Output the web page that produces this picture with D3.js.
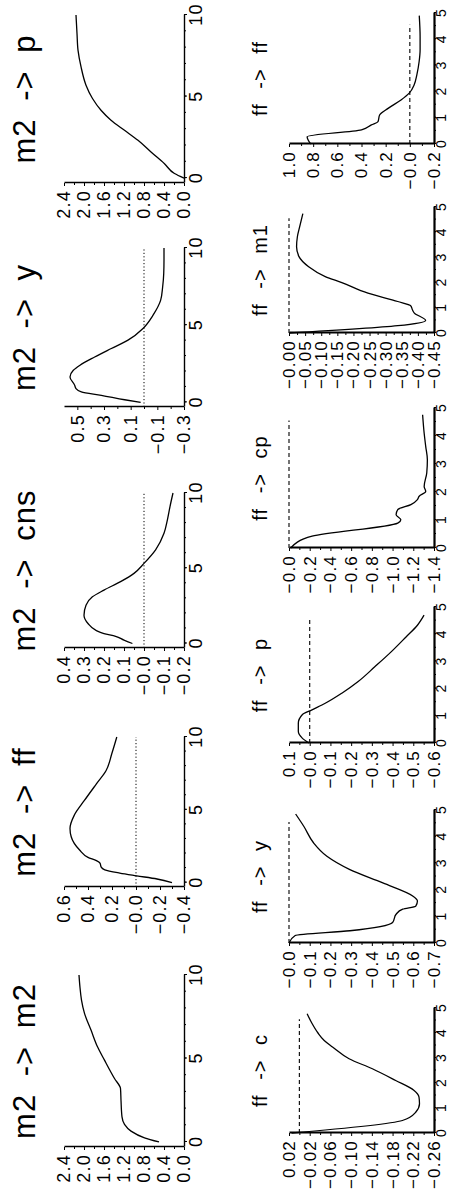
<!DOCTYPE html>
<html><head><meta charset="utf-8">
<script src="https://cdn.jsdelivr.net/npm/d3@7"></script>
<style>html,body{margin:0;padding:0;background:#fff;} svg{display:block;}</style>
</head><body>
<svg id="chart" width="449" height="1198"></svg>
<script>
// ---------------- data ----------------
const m2Titles = ["m2 -> m2", "m2 -> ff", "m2 -> cns", "m2 -> y", "m2 -> p"];
const ffTitles = ["ff -> c", "ff -> y", "ff -> p", "ff -> cp", "ff -> m1", "ff -> ff"];

const m2TimeTicks = [0, 5, 10];
const m2TimeLabels = ["0", "5", "10"];
const ffTimeTicks = [0, 1, 2, 3, 4, 5];
const ffTimeLabels = ["0", "1", "2", "3", "4", "5"];

// responses of m2 (time, value)
const m2_m2 = [[0,0.5],[0.25,0.79],[0.65,1.06],[1.05,1.19],[1.5,1.24],[2.5,1.26],[3.2,1.27],[3.8,1.39],[4.9,1.59],[5.7,1.73],[6.7,1.86],[7.7,1.99],[8.5,2.05],[9.25,2.08],[10,2.1]];
const m2_ff = [[0,-0.30],[0.25,-0.175],[0.47,-0.005],[0.66,0.135],[0.88,0.26],[1.06,0.29],[1.34,0.30],[1.51,0.33],[1.74,0.40],[2.24,0.47],[3.15,0.54],[3.72,0.55],[4.62,0.515],[5.64,0.43],[6.78,0.33],[7.68,0.25],[8.9,0.2],[10,0.16]];
const m2_cns = [[0,0.058],[0.22,0.1],[0.48,0.142],[0.66,0.2],[0.87,0.24],[1.33,0.28],[1.88,0.30],[2.54,0.29],[3.1,0.258],[3.55,0.2],[4.11,0.117],[4.66,0.05],[5.32,0.0],[6.22,-0.058],[7.32,-0.1],[8.22,-0.117],[9.1,-0.13],[10,-0.145]];
const m2_y = [[0,0.025],[0.17,0.145],[0.46,0.32],[0.68,0.47],[0.89,0.51],[1.11,0.52],[1.65,0.555],[2.08,0.53],[2.41,0.48],[2.94,0.37],[3.49,0.245],[4.03,0.12],[4.79,0.0075],[5.65,-0.068],[6.62,-0.125],[7.49,-0.14],[8.35,-0.148],[9.22,-0.15],[10,-0.15]];
const m2_p = [[0,0.0],[0.28,0.19],[0.88,0.39],[1.6,0.66],[2.32,0.92],[2.93,1.19],[3.55,1.46],[4.16,1.66],[4.88,1.83],[5.7,1.96],[6.83,2.06],[7.85,2.12],[8.87,2.14],[10,2.16]];

// responses to ff (time, value)
const ff_c = [[0,0.015],[0.5,-0.199],[0.84,-0.225],[1.17,-0.232],[1.44,-0.231],[1.71,-0.221],[2.1,-0.186],[2.57,-0.141],[2.97,-0.096],[3.44,-0.064],[3.7,-0.048],[4.0,-0.036],[4.4,-0.024],[4.77,-0.015]];
const ff_y = [[0,0],[0.28,-0.03],[0.46,-0.294],[0.77,-0.50],[1.08,-0.517],[1.27,-0.549],[1.39,-0.612],[1.58,-0.62],[1.77,-0.597],[2.26,-0.453],[2.76,-0.294],[3.26,-0.183],[3.76,-0.119],[4.38,-0.072],[4.85,-0.032]];
const ff_p = [[0,0.004],[0.18,0.036],[0.43,0.055],[0.73,0.055],[1.04,0.036],[1.22,-0.011],[1.46,-0.075],[1.83,-0.155],[2.26,-0.234],[2.8,-0.314],[3.35,-0.393],[3.9,-0.465],[4.33,-0.52],[4.7,-0.552]];
const ff_cp = [[0,-0.016],[0.42,-0.223],[0.89,-1.05],[1.01,-1.08],[1.19,-1.034],[1.37,-1.05],[1.55,-1.177],[1.73,-1.24],[1.85,-1.257],[2.02,-1.32],[2.2,-1.305],[2.68,-1.33],[3.15,-1.336],[3.63,-1.32],[4.1,-1.305],[4.76,-1.29]];
const ff_m1 = [[0,0],[0.29,-0.3375],[0.5,-0.424],[0.79,-0.389],[0.92,-0.383],[1.08,-0.378],[1.25,-0.3375],[1.58,-0.245],[2.0,-0.164],[2.24,-0.1125],[2.63,-0.061],[3.03,-0.031],[3.42,-0.0235],[3.82,-0.026],[4.21,-0.033],[4.74,-0.043]];
const ff_ff = [[0,0.82],[0.28,0.85],[0.54,0.4],[0.73,0.318],[0.85,0.264],[1.11,0.25],[1.36,0.18],[1.68,0.073],[1.94,0.005],[2.26,-0.036],[2.64,-0.058],[3.15,-0.077],[3.6,-0.085],[4.1,-0.085],[4.9,-0.078]];

// value-axis ticks and labels
const m2m2Ticks = [2.4,2.0,1.6,1.2,0.8,0.4,0.0];
const m2m2Labels = ["2.4","2.0","1.6","1.2","0.8","0.4","0.0"];
const m2ffTicks = [0.6,0.4,0.2,0.0,-0.2,-0.4];
const m2ffLabels = ["0.6","0.4","0.2","\u22120.0","\u22120.2","\u22120.4"];
const m2cnsTicks = [0.4,0.3,0.2,0.1,0.0,-0.1,-0.2];
const m2cnsLabels = ["0.4","0.3","0.2","0.1","\u22120.0","\u22120.1","\u22120.2"];
const m2yTicks = [0.5,0.3,0.1,-0.1,-0.3];
const m2yLabels = ["0.5","0.3","0.1","\u22120.1","\u22120.3"];
const m2pTicks = [2.4,2.0,1.6,1.2,0.8,0.4,0.0];
const m2pLabels = ["2.4","2.0","1.6","1.2","0.8","0.4","0.0"];

const ffcTicks = [0.02,-0.02,-0.06,-0.10,-0.14,-0.18,-0.22,-0.26];
const ffcLabels = ["0.02","\u22120.02","\u22120.06","\u22120.10","\u22120.14","\u22120.18","\u22120.22","\u22120.26"];
const ffyTicks = [0.0,-0.1,-0.2,-0.3,-0.4,-0.5,-0.6,-0.7];
const ffyLabels = ["\u22120.0","\u22120.1","\u22120.2","\u22120.3","\u22120.4","\u22120.5","\u22120.6","\u22120.7"];
const ffpTicks = [0.1,0.0,-0.1,-0.2,-0.3,-0.4,-0.5,-0.6];
const ffpLabels = ["0.1","\u22120.0","\u22120.1","\u22120.2","\u22120.3","\u22120.4","\u22120.5","\u22120.6"];
const ffcpTicks = [0.0,-0.2,-0.4,-0.6,-0.8,-1.0,-1.2,-1.4];
const ffcpLabels = ["\u22120.0","\u22120.2","\u22120.4","\u22120.6","\u22120.8","\u22121.0","\u22121.2","\u22121.4"];
const ffm1Ticks = [0.0,-0.05,-0.10,-0.15,-0.20,-0.25,-0.30,-0.35,-0.40,-0.45];
const ffm1Labels = ["\u22120.00","\u22120.05","\u22120.10","\u22120.15","\u22120.20","\u22120.25","\u22120.30","\u22120.35","\u22120.40","\u22120.45"];
const ffffTicks = [1.0,0.8,0.6,0.4,0.2,0.0,-0.2];
const ffffLabels = ["1.0","0.8","0.6","0.4","0.2","\u22120.0","\u22120.2"];

// ---------------- layout (unrotated landscape frame 1198 x 449) ----------------
const FONT = "'Liberation Sans', Arial, Helvetica, sans-serif";
const topRow = {yTop: 64, yBot: 184, titleY: 35, titleSize: 31, labelSize: 18, timeSize: 18, axisW: 1.4,
  tDomain: [-0.3, 10], tTicks: m2TimeTicks, tLabels: m2TimeLabels, tMinorStep: 1,
  tTickSize: 3, tLabelBase: 17.5,
  zeroEnd: 10, zeroDash: "1.2,2.2", zeroW: 1};
const botRow = {yTop: 289, yBot: 434, titleY: 267, titleSize: 20, labelSize: 17, timeSize: 14, axisW: 2.2,
  tDomain: [0, 5], tTicks: ffTimeTicks, tLabels: ffTimeLabels, tMinorStep: 0.5,
  tTickSize: 2, tLabelBase: 11.6,
  zeroEnd: 4.55, zeroDash: "4,3", zeroW: 1.1};

const topPanels = [
  {title: m2Titles[0], data: m2_m2, ticks: m2m2Ticks, labels: m2m2Labels, vDomain: [0, 2.4], zero: false, x0: 51, x1: 223},
  {title: m2Titles[1], data: m2_ff, ticks: m2ffTicks, labels: m2ffLabels, vDomain: [-0.4, 0.6], zero: true, x0: 311, x1: 461},
  {title: m2Titles[2], data: m2_cns, ticks: m2cnsTicks, labels: m2cnsLabels, vDomain: [-0.2, 0.4], zero: true, x0: 550, x1: 705},
  {title: m2Titles[3], data: m2_y, ticks: m2yTicks, labels: m2yLabels, vDomain: [-0.3, 0.6], zero: true, x0: 791, x1: 950},
  {title: m2Titles[4], data: m2_p, ticks: m2pTicks, labels: m2pLabels, vDomain: [0, 2.4], zero: false, x0: 1015, x1: 1183}
];
const botPanels = [
  {title: ffTitles[0], data: ff_c, ticks: ffcTicks, labels: ffcLabels, vDomain: [-0.26, 0.02], zero: true, x0: 65, x1: 190},
  {title: ffTitles[1], data: ff_y, ticks: ffyTicks, labels: ffyLabels, vDomain: [-0.7, 0.0], zero: true, x0: 255, x1: 388},
  {title: ffTitles[2], data: ff_p, ticks: ffpTicks, labels: ffpLabels, vDomain: [-0.6, 0.1], zero: true, x0: 455, x1: 591},
  {title: ffTitles[3], data: ff_cp, ticks: ffcpTicks, labels: ffcpLabels, vDomain: [-1.4, 0.0], zero: true, x0: 650, x1: 790},
  {title: ffTitles[4], data: ff_m1, ticks: ffm1Ticks, labels: ffm1Labels, vDomain: [-0.45, 0.0], zero: true, x0: 865, x1: 991},
  {title: ffTitles[5], data: ff_ff, ticks: ffffTicks, labels: ffffLabels, vDomain: [-0.2, 1.0], zero: true, x0: 1054, x1: 1185}
];

// ---------------- drawing ----------------
const svg = d3.select("#chart");
svg.append("rect").attr("width", 449).attr("height", 1198).attr("fill", "#fff");
const frame = svg.append("g").attr("transform", "translate(0,1198) rotate(-90)");

function styleAxis(sel, row, size) {
  sel.attr("font-family", FONT).attr("font-size", size);
  sel.select(".domain").attr("stroke-width", row.axisW).attr("stroke", "#000");
  sel.selectAll(".tick line").attr("stroke-width", 1).attr("stroke", "#000");
  sel.selectAll(".tick text").attr("fill", "#000").attr("letter-spacing", 1.2);
}

function drawPanel(row, cfg) {
  const x = d3.scaleLinear().domain(row.tDomain).range([cfg.x0, cfg.x1]);
  const y = d3.scaleLinear().domain(cfg.vDomain).range([row.yBot, row.yTop]);
  const g = frame.append("g");

  // zero reference line
  if (cfg.zero) {
    g.append("line")
      .attr("x1", x(row.tDomain[0])).attr("x2", x(row.zeroEnd))
      .attr("y1", y(0)).attr("y2", y(0))
      .attr("stroke", "#000").attr("stroke-width", row.zeroW)
      .attr("stroke-dasharray", row.zeroDash);
  }

  // minor value ticks (midway between labelled ticks)
  const vMinor = d3.pairs(cfg.ticks).map(([a, b]) => (a + b) / 2);
  g.append("g").attr("transform", `translate(${cfg.x0},0)`)
    .call(d3.axisLeft(y).tickValues(vMinor).tickSize(2).tickSizeOuter(0).tickFormat(""))
    .call(s => { s.select(".domain").remove(); s.selectAll("line").attr("stroke", "#000"); });

  // value axis
  g.append("g").attr("transform", `translate(${cfg.x0},0)`)
    .call(d3.axisLeft(y).tickValues(cfg.ticks).tickFormat((d, i) => cfg.labels[i])
      .tickSize(3).tickSizeOuter(0).tickPadding(4))
    .call(s => styleAxis(s, row, row.labelSize));

  // minor time ticks
  const tMinor = d3.range(0, row.tDomain[1] + 1e-9, row.tMinorStep);
  g.append("g").attr("transform", `translate(0,${row.yBot})`)
    .call(d3.axisBottom(x).tickValues(tMinor).tickSize(2).tickSizeOuter(0).tickFormat(""))
    .call(s => { s.select(".domain").remove(); s.selectAll("line").attr("stroke", "#000"); });

  // time axis
  g.append("g").attr("transform", `translate(0,${row.yBot})`)
    .call(d3.axisBottom(x).tickValues(row.tTicks).tickFormat((d, i) => row.tLabels[i])
      .tickSize(row.tTickSize).tickSizeOuter(0))
    .call(s => styleAxis(s, row, row.timeSize))
    .call(s => s.selectAll(".tick text").attr("dy", null).attr("y", row.tLabelBase));

  // response curve
  const line = d3.line().x(d => x(d[0])).y(d => y(d[1])).curve(d3.curveMonotoneX);
  g.append("path").datum(cfg.data)
    .attr("d", line).attr("fill", "none")
    .attr("stroke", "#000").attr("stroke-width", 1.3).attr("stroke-linejoin", "round");

  // title
  g.append("text")
    .attr("x", (cfg.x0 + cfg.x1) / 2).attr("y", row.titleY)
    .attr("text-anchor", "middle")
    .attr("font-family", FONT).attr("font-size", row.titleSize)
    .attr("letter-spacing", 1).attr("word-spacing", 8)
    .attr("fill", "#000")
    .text(cfg.title);
}

topPanels.forEach(p => drawPanel(topRow, p));
botPanels.forEach(p => drawPanel(botRow, p));
</script>
</body></html>
